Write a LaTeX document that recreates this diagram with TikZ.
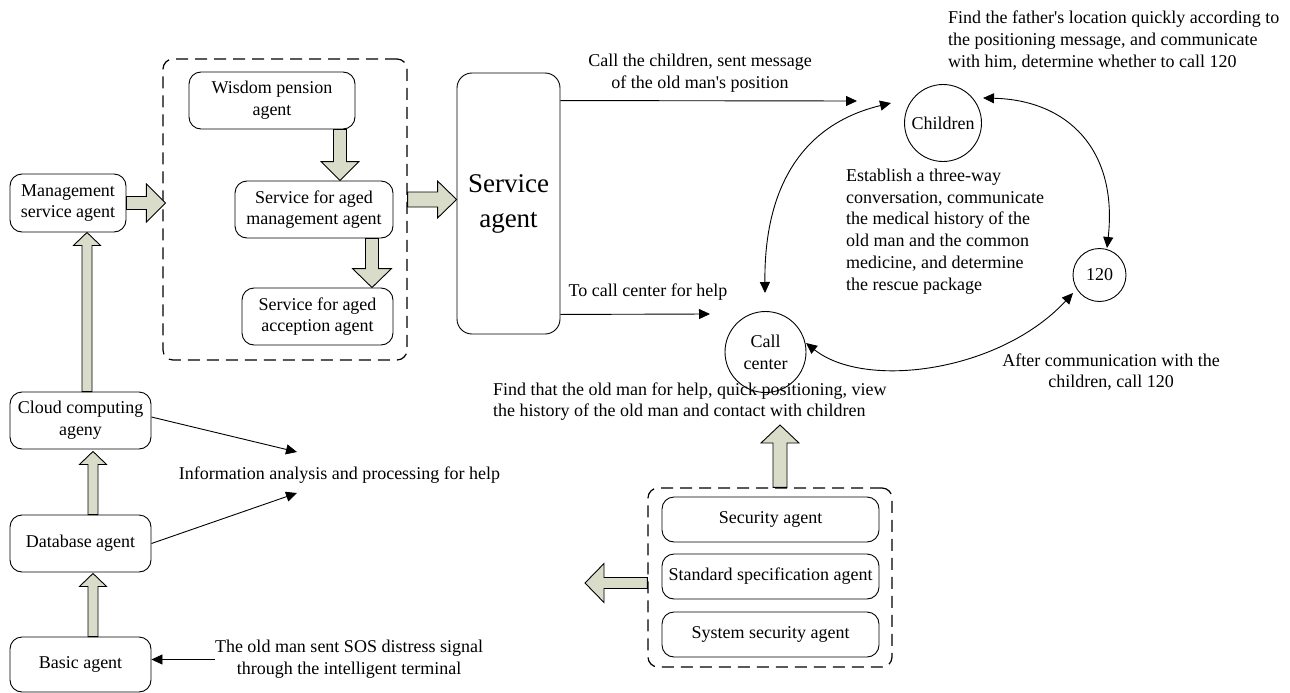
\documentclass[tikz,border=0pt]{standalone}
\usepackage{fontspec}
\setmainfont{Liberation Serif}
\usetikzlibrary{calc,arrows.meta}

\definecolor{fatfill}{RGB}{216,220,200}
\newcommand\fs{\fontsize{18}{21.7}\selectfont}
\newcommand\bigfs{\fontsize{27}{35}\selectfont}
\newcommand\apos{\textquotesingle}

\tikzset{
  agentbox/.style={draw, rounded corners=12pt, line width=0.9pt, align=center, inner sep=0pt},
  roundnode/.style={draw, circle, line width=0.9pt, align=center, inner sep=0pt},
  grp/.style={draw, rounded corners=10pt, line width=1.2pt, dash pattern=on 12pt off 7pt, inner sep=0pt},
  lbl/.style={inner sep=0pt, align=center},
  link/.style={line width=0.9pt, -{Triangle[length=11pt,width=10pt]}},
  duplex/.style={line width=0.9pt, {Triangle[length=11pt,width=10pt]}-{Triangle[length=11pt,width=10pt]}},
  fat/.style={draw, line width=0.9pt, fill=fatfill, line join=miter},
}

% hollow block arrow: #1 start, #2 tip, #3 shaft half width, #4 head half width, #5 head length
\newcommand\fatarrow[5]{%
  \coordinate (fa-b) at ($#2!#5!#1$);
  \draw[fat] ($#1!#3!90:#2$) -- ($(fa-b)!#3!-90:#1$) -- ($(fa-b)!#4!-90:#1$) -- #2
    -- ($(fa-b)!#4!90:#1$) -- ($(fa-b)!#3!90:#1$) -- ($#1!#3!-90:#2$) -- cycle;
}

\begin{document}
\begin{tikzpicture}[x=1pt, y=-1pt, font=\fs]
\useasboundingbox (0,0) rectangle (1290,693);

% ---------- left column ----------
\node[agentbox, minimum width=116pt, minimum height=58pt] (mgmt) at (68,203) {Management\\service agent};
\node[agentbox, minimum width=141pt, minimum height=57pt] (cloud) at (80.5,420.5) {Cloud computing\\ageny};
\node[agentbox, minimum width=141pt, minimum height=57pt] (db) at (80.5,543.5) {Database agent};
\node[agentbox, minimum width=141pt, minimum height=55pt] (basic) at (80.5,664.5) {Basic agent};

% ---------- pension services group ----------
\node[grp, minimum width=244pt, minimum height=301pt] (grp1) at (285,209.5) {};
\node[agentbox, minimum width=166pt, minimum height=57pt] (wisdom) at (272,100.5) {Wisdom pension\\agent};
\node[agentbox, minimum width=158pt, minimum height=57pt] (smgmt) at (314,209.5) {Service for aged\\management agent};
\node[agentbox, minimum width=151pt, minimum height=57pt] (sacc) at (317.5,316.5) {Service for aged\\acception agent};

% ---------- service agent ----------
\node[agentbox, rounded corners=15pt, minimum width=103pt, minimum height=261pt, font=\bigfs] (service) at (508.5,203.5) {Service\\agent};

% ---------- parties ----------
\node[roundnode, minimum size=77pt] (children) at (943,123) {Children};
\node[roundnode, minimum size=53pt] (n120) at (1099.5,275) {120};
\node[roundnode, minimum size=81pt] (callc) at (765.5,352) {Call\\center};

% ---------- security group ----------
\node[grp, minimum width=244pt, minimum height=179pt] (grp2) at (770,577.5) {};
\node[agentbox, minimum width=217pt, minimum height=45pt] (sec) at (770.5,519.5) {Security agent};
\node[agentbox, minimum width=217pt, minimum height=45pt] (std) at (770.5,576.5) {Standard specification agent};
\node[agentbox, minimum width=217pt, minimum height=45pt] (sys) at (770.5,634.5) {System security agent};

% ---------- labels ----------
\node[lbl] (lcall) at (700,73) {Call the children, sent message\\of the old man\apos s position};
\node[lbl] (lhelp) at (648,292) {To call center for help};
\node[lbl, anchor=west, align=left] (lfather) at (948,40.5) {Find the father\apos s location quickly according to\\the positioning message, and communicate\\with him, determine whether to call 120};
\node[lbl, anchor=west, align=left] (lthree) at (846,231.5) {Establish a three-way\\conversation, communicate\\the medical history of the\\old man and the common\\medicine, and determine\\the rescue package};
\node[lbl] (lafter) at (1111,372) {After communication with the\\children, call 120};
\node[lbl, anchor=west, align=left] (lfind) at (493,401.5) {Find that the old man for help, quick positioning, view\\the history of the old man and contact with children};
\node[lbl] (info) at (339.5,475) {Information analysis and processing for help};
\node[lbl] (sos) at (349,659.5) {The old man sent SOS distress signal\\through the intelligent terminal};

% ---------- block arrows ----------
\coordinate (a1s) at ($(cloud.north)+(6.5,0)$);
\coordinate (a1e) at (a1s |- mgmt.south);
\fatarrow{(a1s)}{(a1e)}{5pt}{13.5pt}{13pt}

\coordinate (a2s) at ($(db.north)+(12.5,0)$);
\coordinate (a2e) at ($(a2s |- cloud.south)+(0,2)$);
\fatarrow{(a2s)}{(a2e)}{5pt}{13.5pt}{13pt}

\coordinate (a3s) at ($(basic.north)+(12.5,0)$);
\coordinate (a3e) at ($(a3s |- db.south)+(0,1)$);
\fatarrow{(a3s)}{(a3e)}{5pt}{13.5pt}{13pt}

\coordinate (a4e) at ($(grp1.west |- mgmt.east)+(3,0)$);
\fatarrow{(mgmt.east)}{(a4e)}{6.5pt}{19pt}{19pt}

\coordinate (a5s) at ($(wisdom.south)+(68,0)$);
\coordinate (a5e) at (a5s |- smgmt.north);
\fatarrow{(a5s)}{(a5e)}{6.5pt}{19pt}{19pt}

\coordinate (a6s) at ($(smgmt.south)+(58,0)$);
\coordinate (a6e) at (a6s |- sacc.north);
\fatarrow{(a6s)}{(a6e)}{6.5pt}{19.5pt}{19pt}

\coordinate (a7e) at ($(service.west)+(0,-4)$);
\coordinate (a7s) at (grp1.east |- a7e);
\fatarrow{(a7s)}{(a7e)}{7.5pt}{18.5pt}{19pt}

\coordinate (a8s) at ($(grp2.north)+(10,0)$);
\coordinate (a8e) at (780,425);
\fatarrow{(a8s)}{(a8e)}{7pt}{19pt}{18pt}

\coordinate (a9s) at ($(grp2.west)+(0,5.5)$);
\coordinate (a9e) at (585,583);
\fatarrow{(a9s)}{(a9e)}{5.5pt}{19.5pt}{19pt}

% ---------- thin connectors ----------
\coordinate (toChild) at (857,101);
\coordinate (toCall) at (710,314);
\draw[link] ($(service.north east)+(0,28)$) -- (toChild);
\draw[link] ($(service.south east)+(0,-20)$) -- (toCall);

\coordinate (infoTop) at (297,452);
\coordinate (infoBot) at (297,493);
\draw[link] ($(cloud.east)+(0,-3.5)$) -- (infoTop);
\draw[link] (db.east) -- (infoBot);

\draw[link] (sos.west) -- (sos.west -| basic.east);

% three-way conversation curves
\coordinate (ccN) at (765,293);
\coordinate (chW) at (891,103);
\coordinate (chE) at (983,98);
\coordinate (tN) at (1107,248);
\coordinate (ccE) at (806,343);
\coordinate (tW) at (1073,293);
\draw[duplex] (ccN) .. controls (764,190) and (800,125) .. (chW);
\draw[duplex] (chE) .. controls (1068,100) and (1118,150) .. (tN);
\draw[duplex] (ccE) .. controls (865,390) and (1000,372) .. (tW);

\end{tikzpicture}
\end{document}
